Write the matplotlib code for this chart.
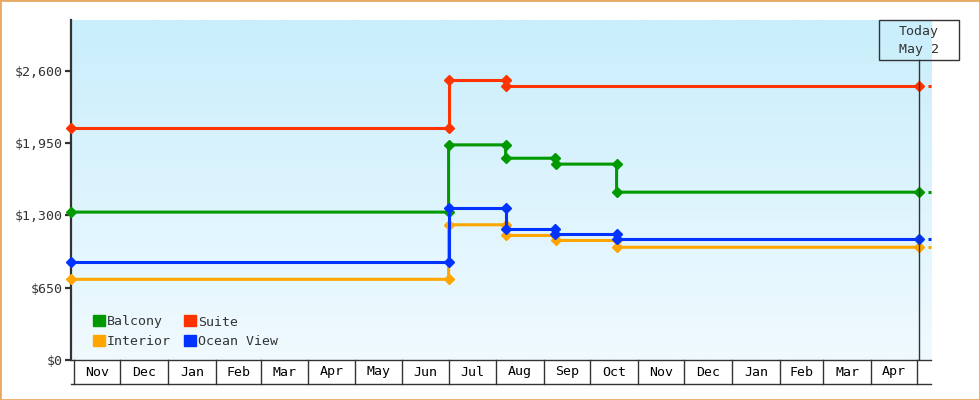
import numpy as np
import pandas as pd
import matplotlib
matplotlib.use("Agg")
import matplotlib.pyplot as plt
from matplotlib.colors import LinearSegmentedColormap
from matplotlib.patches import Rectangle, Patch
from matplotlib.transforms import blended_transform_factory
import datetime as dt

# price history per cabin class
balcony_dates = ['2023-10-30', '2024-07-01', '2024-07-01', '2024-08-07', '2024-08-07',
                 '2024-09-08', '2024-09-09', '2024-10-18', '2024-10-18', '2025-05-02']
balcony_prices = [1329, 1329, 1933, 1933, 1813, 1813, 1760, 1760, 1508, 1508]

interior_dates = balcony_dates
interior_prices = [725, 725, 1215, 1215, 1119, 1119, 1074, 1074, 1013, 1013]

suite_dates = ['2023-10-30', '2024-07-01', '2024-07-01', '2024-08-07', '2024-08-07', '2025-05-02']
suite_prices = [2083, 2083, 2516, 2516, 2458, 2458]

ocean_dates = ['2023-10-30', '2024-07-01', '2024-07-01', '2024-08-07', '2024-08-07',
               '2024-09-08', '2024-09-08', '2024-10-18', '2024-10-18', '2025-05-02']
ocean_prices = [880, 880, 1370, 1370, 1179, 1179, 1134, 1134, 1089, 1089]

y_ticks = [0, 650, 1300, 1950, 2600]
today = dt.datetime(2025, 5, 2)
x_start = dt.datetime(2023, 10, 30)
x_end = dt.datetime(2025, 5, 10)

series = [
    ("Balcony", balcony_dates, balcony_prices, "#009900"),
    ("Interior", interior_dates, interior_prices, "#ffa500"),
    ("Suite", suite_dates, suite_prices, "#ff3300"),
    ("Ocean View", ocean_dates, ocean_prices, "#0033ff"),
]

FONT = "DejaVu Sans Mono"
TXT = "#333333"
plt.rcParams['font.family'] = FONT

fig = plt.figure(figsize=(9.8, 4), dpi=100)
ax = fig.add_axes([71 / 980, 40 / 400, 860 / 980, 340 / 400])

# background gradient
cmap = LinearSegmentedColormap.from_list("bg", ["#f0faff", "#c9eefc"])
ax.imshow(np.linspace(0, 1, 256).reshape(-1, 1), extent=[0, 1, 0, 1], transform=ax.transAxes,
          cmap=cmap, aspect='auto', origin='lower', zorder=0)

for name, d, p, c in series:
    ax.plot(pd.to_datetime(d), p, color=c, lw=2.2, marker='D', ms=5.5, zorder=3, clip_on=False)
    # short stub beyond today
    ax.hlines(p[-1], today + dt.timedelta(days=6), x_end, color=c, lw=2.2, zorder=3, clip_on=False)

ax.set_xlim(x_start, x_end)
ax.set_ylim(0, 3055)

for s in ['top', 'right', 'bottom']:
    ax.spines[s].set_visible(False)
ax.spines['left'].set_color(TXT)
ax.spines['left'].set_linewidth(1.6)
ax.set_yticks(y_ticks)
ax.set_yticklabels(["${:,}".format(v) for v in y_ticks])
ax.tick_params(axis='y', length=4, width=1.6, color=TXT, labelcolor=TXT, labelsize=9.5, pad=2)
ax.set_xticks([])

# month boxes under the plot
tr = blended_transform_factory(ax.transData, ax.transAxes)
months = pd.date_range('2023-11-01', '2025-05-01', freq='MS')
box_h = -24 / 340
ax.plot([0, 1], [0, 0], transform=ax.transAxes, color=TXT, lw=1, clip_on=False)
ax.plot([0, 1], [box_h, box_h], transform=ax.transAxes, color=TXT, lw=1, clip_on=False)
for m in months:
    ax.plot([m, m], [0, box_h], transform=tr, color=TXT, lw=1, clip_on=False)
for a, b in zip(months[:-1], months[1:]):
    mid = a + (b - a) / 2
    ax.text(mid, box_h / 2, a.strftime('%b'), transform=tr, ha='center', va='center',
            fontsize=9.5, color='black')

# today marker
box_bot = (360 - 60) / 340
ax.plot([today, today], [0, box_bot], transform=tr, color=TXT, lw=1, zorder=4)
half_w = dt.timedelta(days=40 / 1.543)
ax.add_patch(Rectangle((today - half_w, box_bot), 2 * half_w, 1 - box_bot, transform=tr,
                       fill=False, ec=TXT, lw=1, clip_on=False, zorder=5))
ax.text(today, (box_bot + 1) / 2, "Today\nMay 2", transform=tr, ha='center', va='center',
        fontsize=9.5, color=TXT, linespacing=1.5, zorder=5)

handles = [Patch(color=c, label=n) for n, _, _, c in series]
ax.legend(handles=handles, ncol=2, loc='lower left', bbox_to_anchor=(0.012, 0.0), frameon=False,
          fontsize=9.5, handlelength=0.9, handleheight=0.9, handletextpad=0.15,
          columnspacing=1.0, labelspacing=0.5, labelcolor=TXT)

fig.patches.append(Rectangle((0, 0), 1, 1, transform=fig.transFigure, fill=False,
                             ec="#e8a965", lw=2, figure=fig))

fig.savefig("out.png", dpi=100)
